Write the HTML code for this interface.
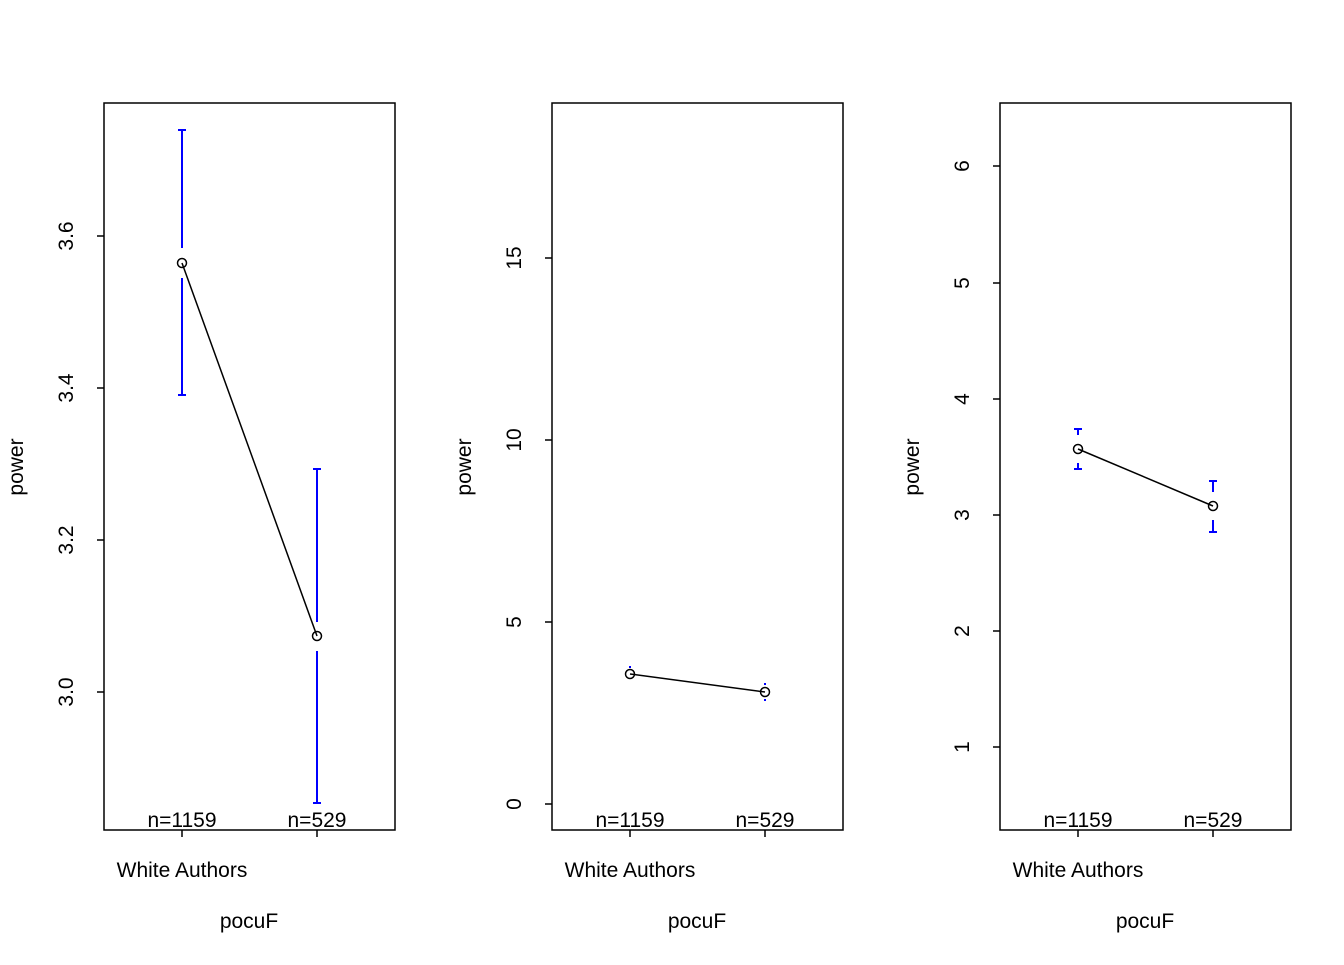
<!DOCTYPE html><html><head><style>body{margin:0;background:#fff}svg text{font-family:"Liberation Sans",Arial,sans-serif;font-size:21px}</style></head><body>
<svg width="1344" height="960" xmlns="http://www.w3.org/2000/svg">
<g fill="none" stroke="#000" stroke-width="1.5">
<rect x="104" y="103" width="291" height="727"/>
<rect x="552" y="103" width="291" height="727"/>
<rect x="1000" y="103" width="291" height="727"/>
<path d="M104 692h-7M104 540h-7M104 388h-7M104 236h-7"/>
<path d="M552 804h-7M552 622h-7M552 440h-7M552 258h-7"/>
<path d="M1000 747h-7M1000 631h-7M1000 515h-7M1000 399h-7M1000 283h-7M1000 166h-7"/>
<path d="M182 830v7M317 830v7M630 830v7M765 830v7M1078 830v7M1213 830v7"/>
</g>
<g stroke="#0000ff" stroke-width="2" fill="none">
<path d="M182 130v118M178 130h8M182 278v117M178 395h8"/>
<path d="M317 469v153M313 469h8M317 651v152M313 803h8"/>
<path d="M1078 429v6M1074 429h8M1078 463v6M1074 469h8"/>
<path d="M1213 481v11M1209 481h8M1213 520v12M1209 532h8"/>
<path d="M630 668v-2M765 685v-2M765 699v2"/>
</g>
<g stroke="#000" stroke-width="1.5" fill="none">
<path d="M182 263L317 636"/><circle cx="182" cy="263" r="4.5"/><circle cx="317" cy="636" r="4.5"/>
<path d="M630 674L765 692"/><circle cx="630" cy="674" r="4.5"/><circle cx="765" cy="692" r="4.5"/>
<path d="M1078 449L1213 506"/><circle cx="1078" cy="449" r="4.5"/><circle cx="1213" cy="506" r="4.5"/>
</g>
<g text-anchor="middle">
<text transform="translate(73,692) rotate(-90)">3.0</text>
<text transform="translate(73,540) rotate(-90)">3.2</text>
<text transform="translate(73,388) rotate(-90)">3.4</text>
<text transform="translate(73,236) rotate(-90)">3.6</text>
<text transform="translate(521,804) rotate(-90)">0</text>
<text transform="translate(521,622) rotate(-90)">5</text>
<text transform="translate(521,440) rotate(-90)">10</text>
<text transform="translate(521,258) rotate(-90)">15</text>
<text transform="translate(969,747) rotate(-90)">1</text>
<text transform="translate(969,631) rotate(-90)">2</text>
<text transform="translate(969,515) rotate(-90)">3</text>
<text transform="translate(969,399) rotate(-90)">4</text>
<text transform="translate(969,283) rotate(-90)">5</text>
<text transform="translate(969,166) rotate(-90)">6</text>
<text transform="translate(23,467) rotate(-90)">power</text>
<text transform="translate(471,467) rotate(-90)">power</text>
<text transform="translate(919,467) rotate(-90)">power</text>
<text x="182" y="827">n=1159</text><text x="317" y="827">n=529</text>
<text x="630" y="827">n=1159</text><text x="765" y="827">n=529</text>
<text x="1078" y="827">n=1159</text><text x="1213" y="827">n=529</text>
<text x="182" y="877">White Authors</text><text x="630" y="877">White Authors</text><text x="1078" y="877">White Authors</text>
<text x="249" y="928">pocuF</text><text x="697" y="928">pocuF</text><text x="1145" y="928">pocuF</text>
</g>
</svg></body></html>
